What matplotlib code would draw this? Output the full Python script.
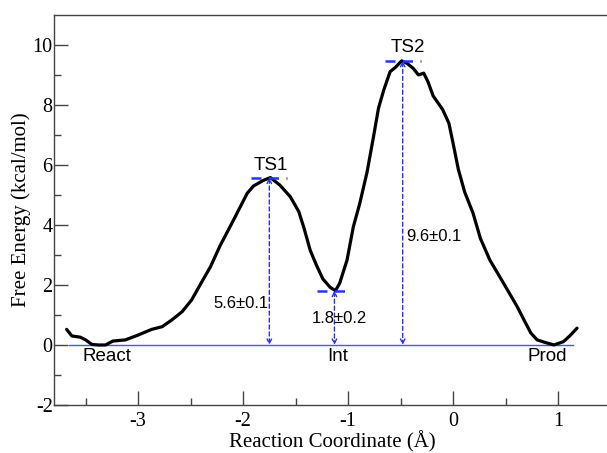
import numpy as np
import matplotlib
matplotlib.use("Agg")
import matplotlib.pyplot as plt

plt.rcParams['axes.unicode_minus'] = False

# free energy profile
coord = [-3.68, -3.63, -3.55, -3.50, -3.44, -3.38, -3.31, -3.24, -3.12, -3.00,
         -2.87, -2.77, -2.68, -2.58, -2.49, -2.40, -2.31, -2.22, -2.09, -1.96,
         -1.90, -1.81, -1.74, -1.65, -1.55, -1.47, -1.42, -1.36, -1.30, -1.24,
         -1.17, -1.12, -1.08, -1.01, -0.95, -0.89, -0.82, -0.76, -0.71, -0.66,
         -0.60, -0.55, -0.49, -0.44, -0.38, -0.33, -0.28, -0.24, -0.19, -0.10,
         -0.04, 0.00, 0.05, 0.11, 0.19, 0.26, 0.35, 0.48, 0.61, 0.68,
         0.74, 0.80, 0.88, 0.96, 1.05, 1.11, 1.18]
energy = [0.52, 0.30, 0.26, 0.17, 0.02, 0.00, 0.00, 0.13, 0.17, 0.33,
          0.52, 0.61, 0.83, 1.11, 1.50, 2.06, 2.61, 3.30, 4.17, 5.06,
          5.30, 5.48, 5.58, 5.33, 4.94, 4.45, 3.90, 3.15, 2.65, 2.20,
          1.92, 1.81, 2.06, 2.83, 3.94, 4.70, 5.75, 6.90, 7.90, 8.50,
          9.11, 9.25, 9.47, 9.39, 9.22, 9.00, 9.06, 8.78, 8.30, 7.85,
          7.39, 6.72, 5.85, 5.10, 4.39, 3.55, 2.83, 2.06, 1.28, 0.80,
          0.40, 0.17, 0.08, 0.00, 0.11, 0.30, 0.56]

# stationary points (TS1, Int, TS2)
points_x = [-1.75, -1.13, -0.48]
points_y = [5.58, 1.81, 9.47]
barrier_text = ["5.6±0.1", "1.8±0.2", "9.6±0.1"]

states = ["React", "Int", "Prod"]
states_x = [-3.30, -1.10, 0.90]

blue = "#2233ff"

fig = plt.figure(figsize=(6.07, 4.53), dpi=100)
ax = fig.add_axes([0.089, 0.106, 0.917, 0.861])

ax.plot(coord, energy, color="black", linewidth=2.3, zorder=3,
        solid_joinstyle="round", solid_capstyle="round")

# zero reference line
ax.plot([-3.66, 1.14], [0, 0], color="#4455ff", linewidth=1.0, zorder=2)

# markers at stationary points + arrows down to baseline
for x, y in zip(points_x, points_y):
    ax.plot([x - 0.17, x + 0.17], [y, y], color=blue, linewidth=1.8,
            linestyle=(0, (4, 3)), zorder=4)
    ax.annotate("", xy=(x, 0), xytext=(x, y),
                arrowprops=dict(arrowstyle="<->", color=blue, lw=1.0,
                                linestyle=(0, (3, 2)), shrinkA=0, shrinkB=0,
                                mutation_scale=8))

sans = "Liberation Sans"
ax.text(-1.74, 5.97, "TS1", fontsize=13.5, ha="center", va="center", family=sans)
ax.text(-0.43, 9.9, "TS2", fontsize=13.5, ha="center", va="center", family=sans)
ax.text(-2.02, 1.37, barrier_text[0], fontsize=12, ha="center", va="center", family=sans)
ax.text(-1.08, 0.87, barrier_text[1], fontsize=12, ha="center", va="center", family=sans)
ax.text(-0.45, 3.63, barrier_text[2], fontsize=12, ha="left", va="center", family=sans)
for name, x in zip(states, states_x):
    ax.text(x, -0.4, name, fontsize=13.5, ha="center", va="center", family=sans)

ax.set_xlim(-3.8, 1.5)
ax.set_ylim(-2, 11)
ax.set_xticks([-3, -2, -1, 0, 1])
ax.set_xticks(np.arange(-3.5, 1.6, 1.0), minor=True)
ax.set_yticks([-2, 0, 2, 4, 6, 8, 10])
ax.set_yticks(np.arange(-1, 11, 2), minor=True)
ax.tick_params(which="both", direction="in", color="#444444", labelsize=14.5,
               labelfontfamily="Liberation Serif")
ax.tick_params(axis="x", pad=5)
ax.tick_params(axis="y", pad=1)
ax.tick_params(which="major", length=10, width=1)
ax.tick_params(which="minor", length=5, width=1)
ax.tick_params(top=False, right=False)
for s in ax.spines.values():
    s.set_color("#444444")
    s.set_linewidth(1.0)

ax.set_xlabel("Reaction Coordinate (Å)", fontsize=15, family="Liberation Serif", labelpad=0)
ax.set_ylabel("Free Energy (kcal/mol)", fontsize=15, family="Liberation Serif", labelpad=1)

fig.savefig("out.png", dpi=100)
